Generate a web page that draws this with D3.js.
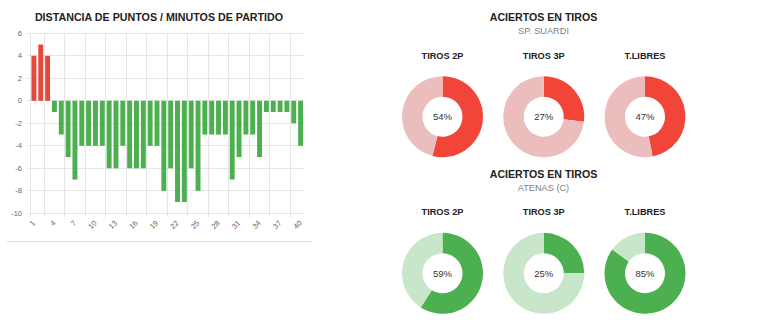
<!DOCTYPE html>
<html>
<head>
<meta charset="utf-8">
<script src="https://cdn.jsdelivr.net/npm/d3@7/dist/d3.min.js"></script>
<style>
  html, body { margin: 0; padding: 0; background: #fff; }
  svg { display: block; font-family: "Liberation Sans", Arial, sans-serif; }
</style>
</head>
<body>
<svg id="chart" width="760" height="332"></svg>
<script>
// ---- Data ----
const barTitle = "DISTANCIA DE PUNTOS / MINUTOS DE PARTIDO";
const minutes = [1,2,3,4,5,6,7,8,9,10,11,12,13,14,15,16,17,18,19,20,
                 21,22,23,24,25,26,27,28,29,30,31,32,33,34,35,36,37,38,39,40];
const pointDiff = [4,5,4,-1,-3,-5,-7,-4,-4,-4,-4,-6,-6,-4,-6,-6,-6,-4,-4,-8,
                   -6,-9,-9,-6,-8,-3,-3,-3,-3,-7,-5,-3,-3,-5,-1,-1,-1,-1,-2,-4];
const yTicks = [6,4,2,0,-2,-4,-6,-8,-10];
const xTickLabels = [1,4,7,10,13,16,19,22,25,28,31,34,37,40];

const donutTitle = "ACIERTOS EN TIROS";
const teams = ["SP. SUARDI", "ATENAS (C)"];
const shotTypes = ["TIROS 2P", "TIROS 3P", "T.LIBRES"];
const suardiPct = [54, 27, 47];
const atenasPct = [59, 25, 85];

const teamColors = [
  { made: "#f2453a", miss: "#ebbdbd", bar: "#e8473b" },
  { made: "#4caf50", miss: "#c8e6c9", bar: "#4caf50" }
];

const svg = d3.select("#chart");
svg.append("rect").attr("width", 760).attr("height", 332).attr("fill", "#fff");

// ---- Bar chart ----
const plot = { left: 30.5, right: 304, top: 33.3, bottom: 213.3 };
const x = d3.scaleBand().domain(minutes).range([plot.left, plot.right]).paddingInner(0.28).paddingOuter(0.14);
const y = d3.scaleLinear().domain([-10, 6]).range([plot.bottom, plot.top]);
const step = (plot.right - plot.left) / minutes.length;

svg.append("text")
  .attr("x", 159).attr("y", 16.8)
  .attr("text-anchor", "middle").attr("dominant-baseline", "central")
  .attr("font-size", 10.7).attr("font-weight", "bold").attr("fill", "#222")
  .text(barTitle);

const grid = svg.append("g").attr("stroke", "#e6e6e6").attr("stroke-width", 1).attr("shape-rendering", "crispEdges");
grid.selectAll("line.h").data(yTicks).join("line")
  .attr("x1", plot.left - 4).attr("x2", plot.right)
  .attr("y1", d => y(d)).attr("y2", d => y(d));
// vertical grid lines at category boundaries
const vIdx = minutes.map((m, i) => i).filter(i => i % 3 === 2);
grid.selectAll("line.v").data(vIdx).join("line")
  .attr("x1", i => plot.left + i * step).attr("x2", i => plot.left + i * step)
  .attr("y1", plot.top).attr("y2", plot.bottom + 4);
grid.append("line")
  .attr("x1", plot.left).attr("x2", plot.left)
  .attr("y1", plot.top).attr("y2", plot.bottom + 4);

svg.append("g").selectAll("rect").data(minutes).join("rect")
  .attr("x", (m) => x(m))
  .attr("width", x.bandwidth())
  .attr("y", (m, i) => y(Math.max(0, pointDiff[i])))
  .attr("height", (m, i) => Math.abs(y(pointDiff[i]) - y(0)))
  .attr("fill", (m, i) => pointDiff[i] >= 0 ? teamColors[0].bar : teamColors[1].bar);

svg.append("g").selectAll("text").data(yTicks).join("text")
  .attr("x", 22).attr("y", d => y(d))
  .attr("text-anchor", "end").attr("dominant-baseline", "central")
  .attr("font-size", 7.5).attr("fill", "#666")
  .text(d => d);

svg.append("g").selectAll("text").data(xTickLabels).join("text")
  .attr("transform", d => `translate(${x(d) + x.bandwidth() / 2},${plot.bottom + 8.5}) rotate(-45)`)
  .attr("text-anchor", "end").attr("dominant-baseline", "central")
  .attr("font-size", 7.5).attr("fill", "#666")
  .text(d => d);

svg.append("line")
  .attr("x1", 7).attr("x2", 312).attr("y1", 241.5).attr("y2", 241.5)
  .attr("stroke", "#dcdcdc").attr("stroke-width", 1);

// ---- Donuts ----
const cx = d3.scalePoint().domain(shotTypes).range([442.5, 645]);
const rows = [
  { team: teams[0], pct: suardiPct, colors: teamColors[0], titleY: 17.3, subY: 30.7, labY: 55.7, cy: 116.7 },
  { team: teams[1], pct: atenasPct, colors: teamColors[1], titleY: 174.0, subY: 187.7, labY: 212.3, cy: 273.3 }
];
const pie = d3.pie().sort(null).value(d => d);
const arc = d3.arc().innerRadius(20).outerRadius(40.5);

rows.forEach(r => {
  svg.append("text")
    .attr("x", 543.5).attr("y", r.titleY)
    .attr("text-anchor", "middle").attr("dominant-baseline", "central")
    .attr("font-size", 10.6).attr("font-weight", "bold").attr("fill", "#222")
    .text(donutTitle);
  svg.append("text")
    .attr("x", 543.5).attr("y", r.subY)
    .attr("text-anchor", "middle").attr("dominant-baseline", "central")
    .attr("font-size", 9.2).attr("fill", "#808080")
    .text(r.team);
  shotTypes.forEach((s, i) => {
    const g = svg.append("g");
    g.append("text")
      .attr("x", cx(s)).attr("y", r.labY)
      .attr("text-anchor", "middle").attr("dominant-baseline", "central")
      .attr("font-size", 9.2).attr("font-weight", "bold").attr("fill", "#222")
      .text(s);
    const dg = g.append("g").attr("transform", `translate(${cx(s)},${r.cy})`);
    dg.selectAll("path").data(pie([r.pct[i], 100 - r.pct[i]])).join("path")
      .attr("d", arc)
      .attr("fill", (d, k) => k === 0 ? r.colors.made : r.colors.miss);
    dg.append("text")
      .attr("text-anchor", "middle").attr("dominant-baseline", "central")
      .attr("font-size", 9.5).attr("fill", "#333")
      .text(r.pct[i] + "%");
  });
});
</script>
</body>
</html>
